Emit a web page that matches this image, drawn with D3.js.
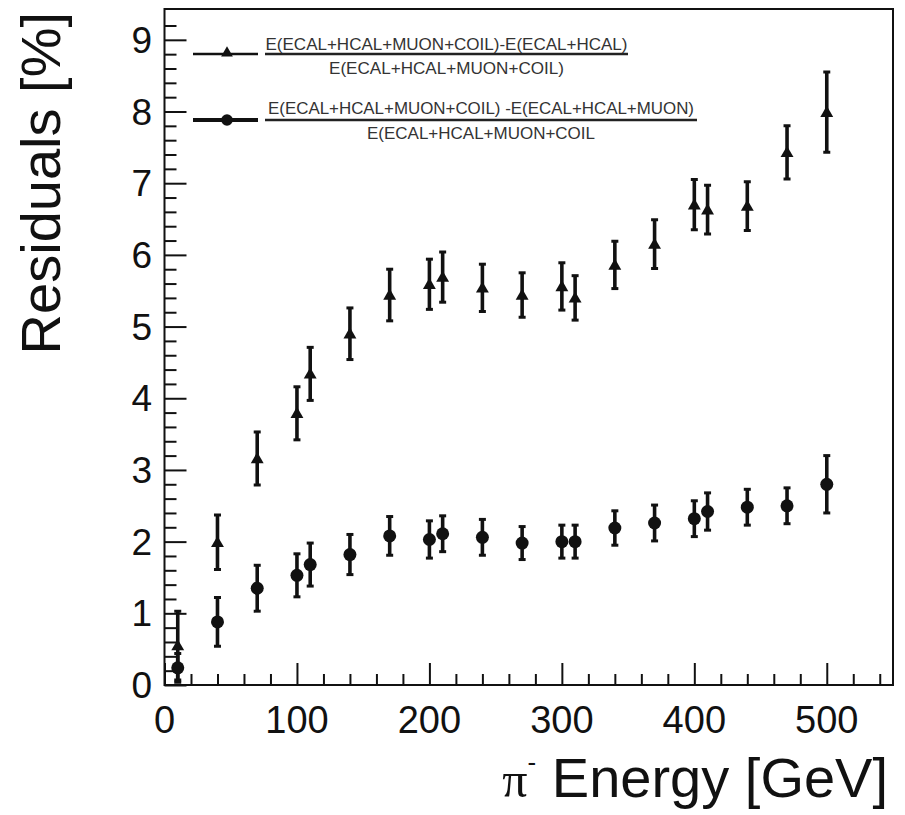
<!DOCTYPE html>
<html>
<head>
<meta charset="utf-8">
<script src="https://cdn.jsdelivr.net/npm/d3@7"></script>
<style>
  body { margin: 0; background: #fff; }
  svg { display: block; }
</style>
</head>
<body>
<div id="chart"></div>
<script>
// beam energies (GeV), shared by both series
const energies = [10, 40, 70, 100, 110, 140, 170, 200, 210, 240, 270, 300, 310, 340, 370, 400, 410, 440, 470, 500];

// triangles: (all - ECAL+HCAL) / all
const triResid = [0.55, 1.99, 3.16, 3.79, 4.34, 4.90, 5.44, 5.59, 5.69, 5.54, 5.44, 5.56, 5.40, 5.86, 6.15, 6.70, 6.63, 6.68, 7.43, 7.99];
const triErr = [0.48, 0.38, 0.37, 0.37, 0.37, 0.36, 0.36, 0.35, 0.35, 0.33, 0.31, 0.33, 0.31, 0.33, 0.34, 0.35, 0.34, 0.34, 0.37, 0.56];

// circles: (all - ECAL+HCAL+MUON) / all
const circResid = [0.24, 0.88, 1.35, 1.53, 1.68, 1.82, 2.08, 2.03, 2.11, 2.06, 1.98, 2.00, 2.00, 2.19, 2.26, 2.32, 2.42, 2.48, 2.50, 2.80];
const circErr = [0.20, 0.34, 0.32, 0.30, 0.30, 0.28, 0.27, 0.26, 0.25, 0.25, 0.23, 0.23, 0.23, 0.24, 0.25, 0.25, 0.26, 0.25, 0.25, 0.40];

const xTicks = [0, 100, 200, 300, 400, 500];
const yTicks = [0, 1, 2, 3, 4, 5, 6, 7, 8, 9];
const legendLabels = [
    ["E(ECAL+HCAL+MUON+COIL)-E(ECAL+HCAL)", "E(ECAL+HCAL+MUON+COIL)"],
    ["E(ECAL+HCAL+MUON+COIL) -E(ECAL+HCAL+MUON)", "E(ECAL+HCAL+MUON+COIL"]
];

// page setup
const width = 905;
const height = 815;
const plot = { left: 164.5, right: 893, top: 9, bottom: 685 };
const font = "'Liberation Sans', Arial, Helvetica, sans-serif";

const svg = d3.select("#chart")
    .append("svg")
    .attr("width", width)
    .attr("height", height);

const x = d3.scaleLinear().domain([0, 550]).range([plot.left, plot.right]);
const y = d3.scaleLinear().domain([0, 9.43]).range([plot.bottom, plot.top]);

// clip so error bars stay inside the frame
svg.append("clipPath").attr("id", "frame-clip")
    .append("rect")
    .attr("x", plot.left)
    .attr("y", plot.top)
    .attr("width", plot.right - plot.left)
    .attr("height", plot.bottom - plot.top);

// ticks drawn inside the frame, ROOT style
const xAxis = svg.append("g")
    .attr("transform", `translate(0,${plot.bottom})`)
    .call(d3.axisTop(x).tickValues(d3.range(0, 551, 20)).tickSize(11).tickFormat(""));
xAxis.selectAll(".tick line")
    .filter(d => d % 100 === 0)
    .attr("y2", -22);

const yAxis = svg.append("g")
    .attr("transform", `translate(${plot.left},0)`)
    .call(d3.axisRight(y).tickValues(d3.range(0, 47).map(i => i * 0.2)).tickSize(12).tickFormat(""));
yAxis.selectAll(".tick line")
    .filter(d => Math.abs(d - Math.round(d)) < 1e-6)
    .attr("x2", 22);

[xAxis, yAxis].forEach(a => {
    a.select(".domain").remove();
    a.selectAll(".tick line").attr("stroke", "#111").attr("stroke-width", 2);
});

// frame
svg.append("rect")
    .attr("x", plot.left)
    .attr("y", plot.top)
    .attr("width", plot.right - plot.left)
    .attr("height", plot.bottom - plot.top)
    .attr("fill", "none")
    .attr("stroke", "#111")
    .attr("stroke-width", 2);

// tick labels
svg.selectAll(".xlab")
    .data(xTicks)
    .enter()
    .append("text")
    .attr("x", d => x(d))
    .attr("y", 733)
    .attr("text-anchor", "middle")
    .attr("font-family", font)
    .attr("font-size", "38px")
    .attr("fill", "#111")
    .text(d => d);

svg.selectAll(".ylab")
    .data(yTicks)
    .enter()
    .append("text")
    .attr("x", 152)
    .attr("y", d => y(d) + 13)
    .attr("text-anchor", "end")
    .attr("font-family", font)
    .attr("font-size", "37px")
    .attr("fill", "#111")
    .text(d => d);

// axis titles
svg.append("text")
    .attr("transform", "translate(60,12) rotate(-90)")
    .attr("text-anchor", "end")
    .attr("font-family", font)
    .attr("font-size", "56px")
    .attr("fill", "#111")
    .text("Residuals [%]");

const xTitle = svg.append("text")
    .attr("x", 888)
    .attr("y", 797)
    .attr("text-anchor", "end")
    .attr("font-family", font)
    .attr("font-size", "56px")
    .attr("fill", "#111");
xTitle.append("tspan")
    .attr("font-family", "'Liberation Serif', 'DejaVu Serif', serif")
    .attr("font-size", "50px")
    .text("π");
xTitle.append("tspan")
    .attr("font-size", "26px")
    .attr("dy", -26)
    .text("-");
xTitle.append("tspan")
    .attr("dy", 26)
    .text(" Energy [GeV]");

// data points with error bars
const tri = d3.symbol().type(d3.symbolTriangle).size(72);

function drawSeries(vals, errs, shape, lineWidth) {
    const pts = energies.map((e, i) => ({ e: e, v: vals[i], err: errs[i] }));
    const g = svg.append("g").attr("clip-path", "url(#frame-clip)");

    g.selectAll(".bar")
        .data(pts)
        .enter()
        .append("line")
        .attr("x1", d => x(d.e))
        .attr("x2", d => x(d.e))
        .attr("y1", d => y(d.v - d.err))
        .attr("y2", d => y(d.v + d.err))
        .attr("stroke", "#111")
        .attr("stroke-width", lineWidth);

    // end caps
    g.selectAll(".cap")
        .data(pts.flatMap(d => [d.v - d.err, d.v + d.err].map(v => ({ e: d.e, v: v }))))
        .enter()
        .append("line")
        .attr("x1", d => x(d.e) - 3.5)
        .attr("x2", d => x(d.e) + 3.5)
        .attr("y1", d => y(d.v))
        .attr("y2", d => y(d.v))
        .attr("stroke", "#111")
        .attr("stroke-width", 3);

    if (shape === "triangle") {
        g.selectAll(".mark")
            .data(pts)
            .enter()
            .append("path")
            .attr("d", tri)
            .attr("transform", d => `translate(${x(d.e)},${y(d.v) + 1})`)
            .attr("fill", "#111");
    } else {
        g.selectAll(".mark")
            .data(pts)
            .enter()
            .append("circle")
            .attr("cx", d => x(d.e))
            .attr("cy", d => y(d.v))
            .attr("r", 6.5)
            .attr("fill", "#111");
    }
}

drawSeries(triResid, triErr, "triangle", 3.6);
drawSeries(circResid, circErr, "circle", 3.6);

// legend
const legend = [
    { y: 54, shape: "triangle", lw: 2.4, numY: 49.5, denY: 73.5, lineEnd: 628, numW: 362, denW: 235 },
    { y: 120, shape: "circle", lw: 3.8, numY: 114, denY: 139, lineEnd: 697, numW: 426, denW: 228 }
];

legend.forEach((L, i) => {
    svg.append("line")
        .attr("x1", 193).attr("x2", 258)
        .attr("y1", L.y).attr("y2", L.y)
        .attr("stroke", "#111")
        .attr("stroke-width", L.lw);
    if (L.shape === "triangle") {
        svg.append("path")
            .attr("d", d3.symbol().type(d3.symbolTriangle).size(60)())
            .attr("transform", `translate(227,${L.y - 1})`)
            .attr("fill", "#111");
    } else {
        svg.append("circle")
            .attr("cx", 227).attr("cy", L.y).attr("r", 5.8)
            .attr("fill", "#111");
    }

    // fraction bar
    svg.append("line")
        .attr("x1", 265).attr("x2", L.lineEnd)
        .attr("y1", L.y).attr("y2", L.y)
        .attr("stroke", "#222")
        .attr("stroke-width", 2.5);

    const cx = (265 + L.lineEnd) / 2;
    svg.append("text")
        .attr("x", cx)
        .attr("y", L.numY)
        .attr("text-anchor", "middle")
        .attr("font-family", font)
        .attr("font-size", "17px")
        .attr("fill", "#333")
        .attr("textLength", L.numW)
        .attr("lengthAdjust", "spacingAndGlyphs")
        .text(legendLabels[i][0]);
    svg.append("text")
        .attr("x", cx)
        .attr("y", L.denY)
        .attr("text-anchor", "middle")
        .attr("font-family", font)
        .attr("font-size", "17px")
        .attr("fill", "#333")
        .attr("textLength", L.denW)
        .attr("lengthAdjust", "spacingAndGlyphs")
        .text(legendLabels[i][1]);
});
</script>
</body>
</html>
